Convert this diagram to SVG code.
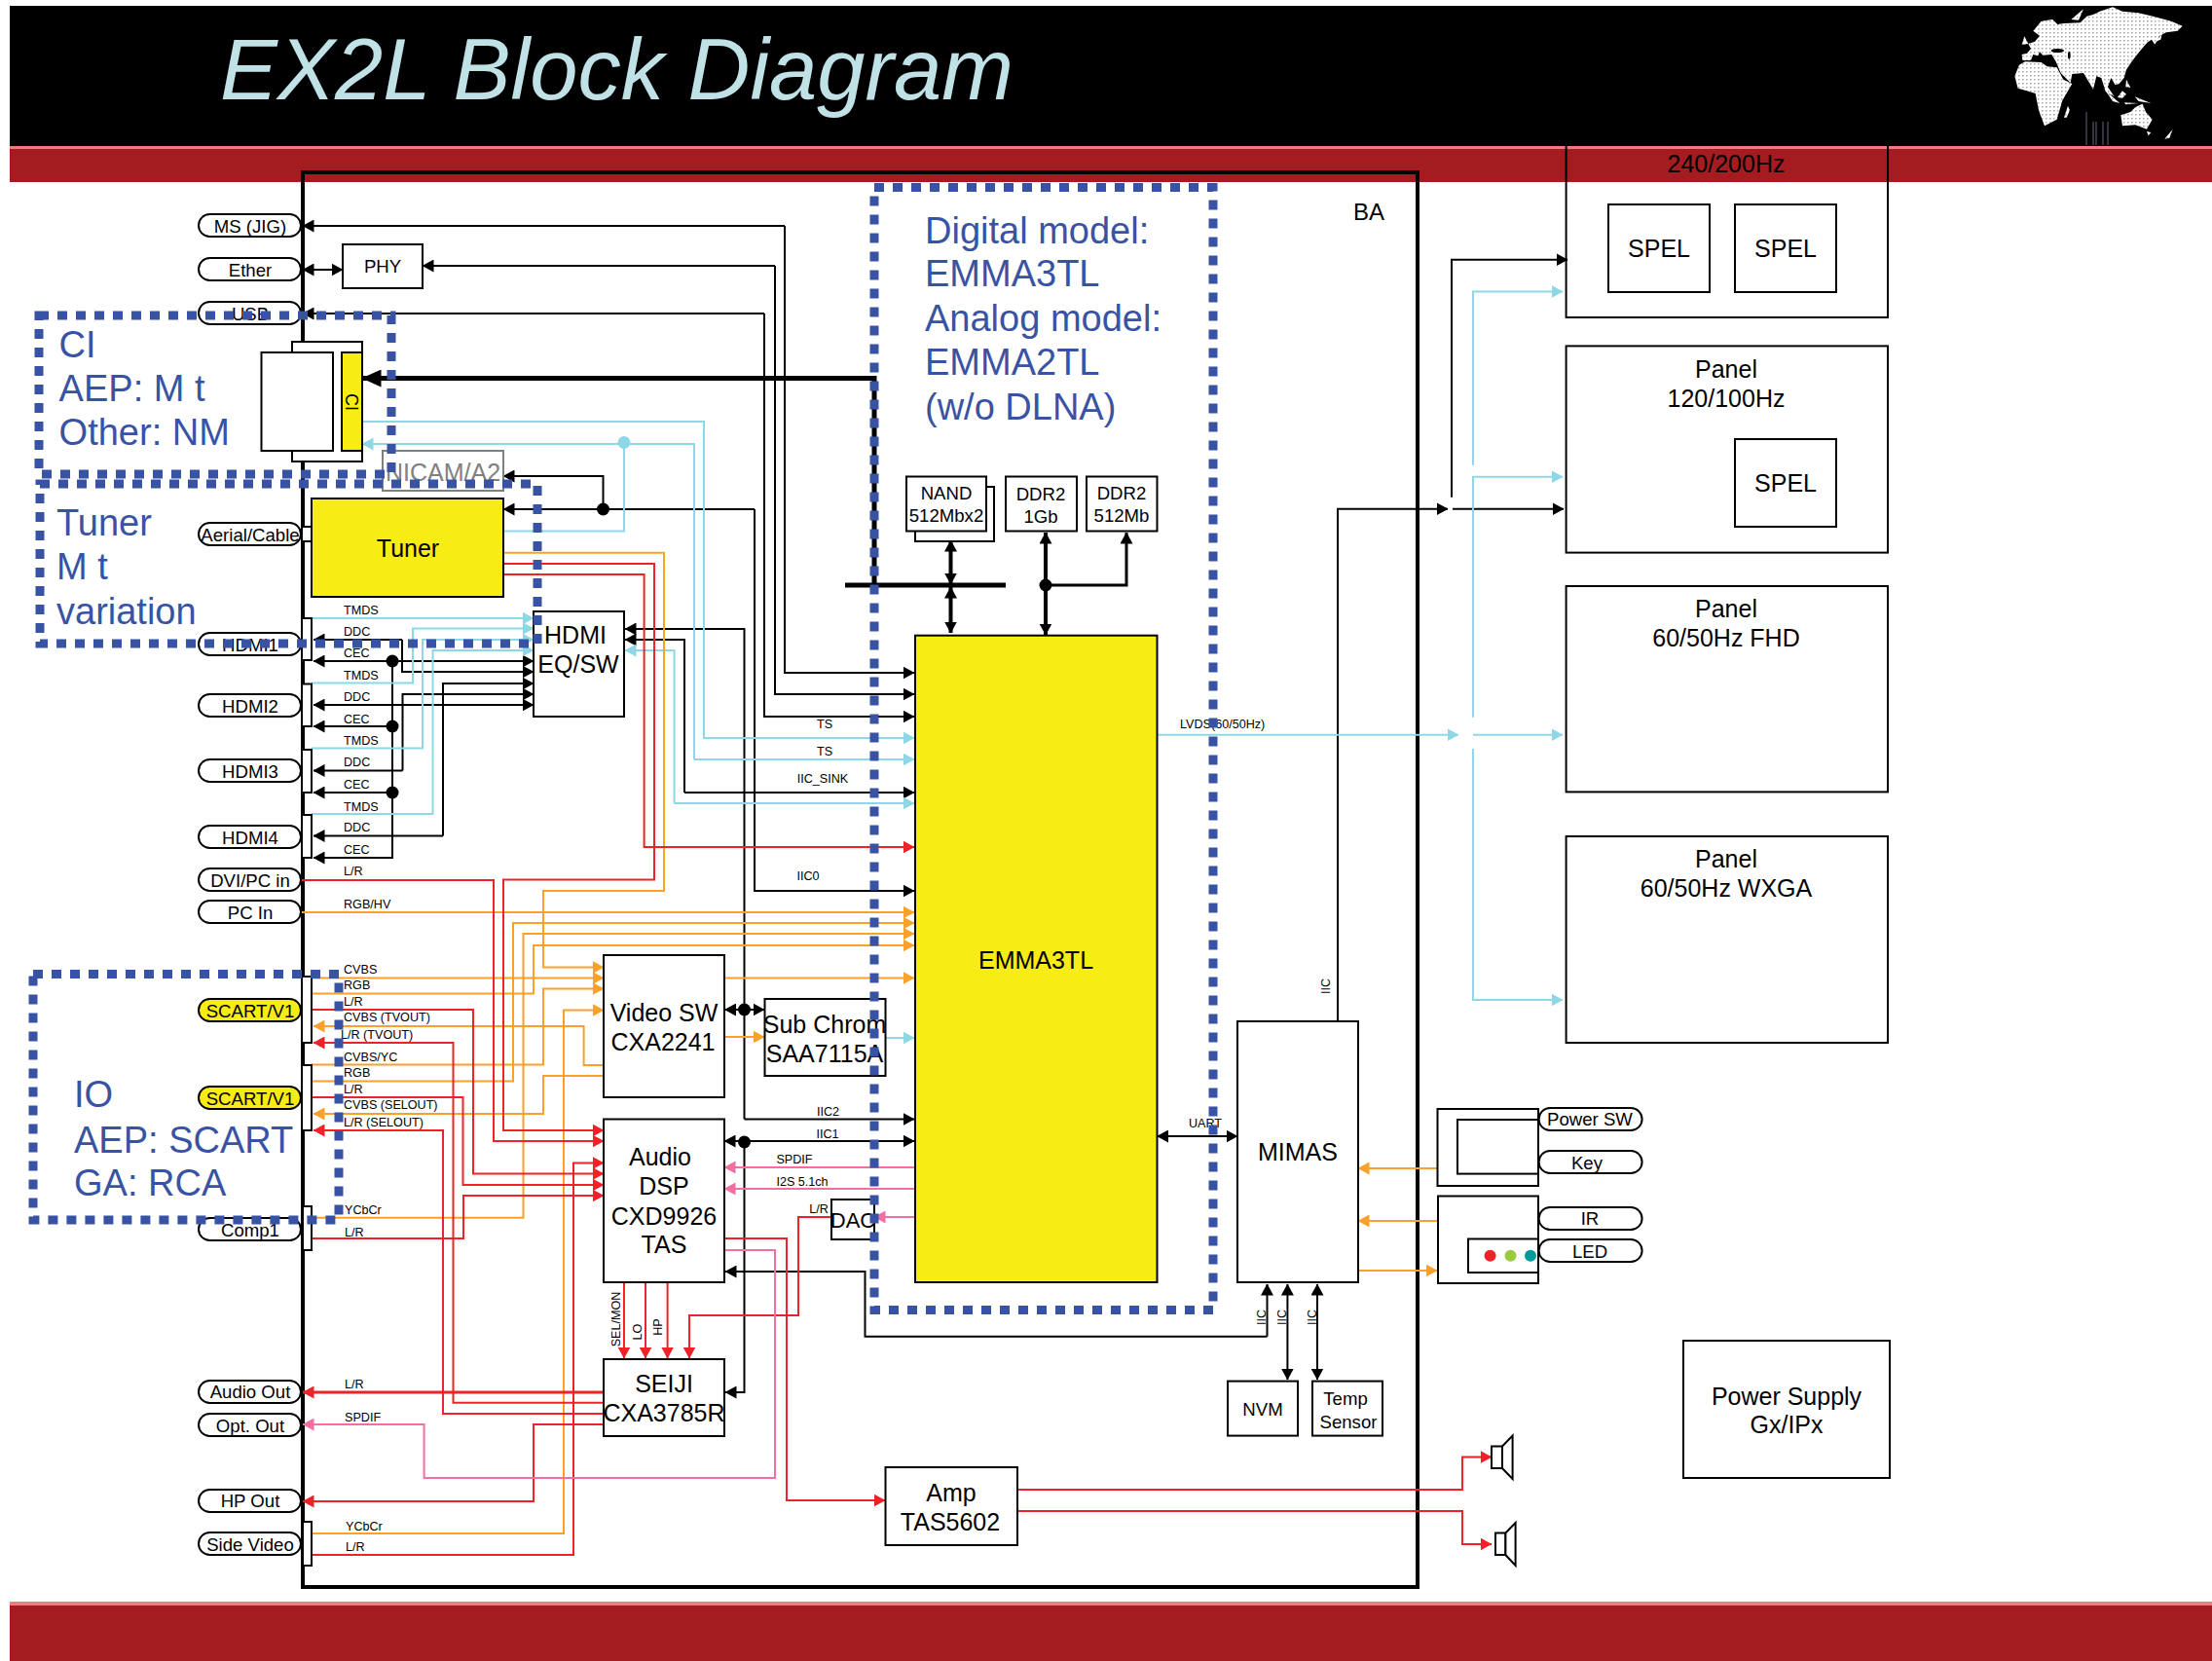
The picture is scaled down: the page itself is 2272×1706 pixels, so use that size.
<svg xmlns="http://www.w3.org/2000/svg" width="2272" height="1706" viewBox="0 0 2272 1706">
<style>
text{font-family:"Liberation Sans",Arial,sans-serif;text-anchor:middle;dominant-baseline:central;fill:#000}
.n25{font-size:25px}.n19{font-size:18.6px}.n22{font-size:22px}.lb{font-size:12.6px}
.st{text-anchor:start}
.bt{font-size:38px;fill:#3953a4;text-anchor:start}
.box{fill:#fff;stroke:#000;stroke-width:2}
.ybox{fill:#f7ec13;stroke:#000;stroke-width:2}
.pill{fill:#fff;stroke:#000;stroke-width:2}
.ypill{fill:#f7ec13;stroke:#000;stroke-width:2}
.nf{fill:none;stroke:#000;stroke-width:2}
#connectors path{fill:none;stroke-width:2;stroke-linejoin:miter}
#connectors .k{stroke:#000;marker-end:url(#mk)}
#connectors .kk{stroke:#000;marker-end:url(#mk);marker-start:url(#mk)}
#connectors .k0{stroke:#000}
#connectors .c{stroke:#8dd7e6;marker-end:url(#mc)}
#connectors .c0{stroke:#8dd7e6}
#connectors .o{stroke:#f9a12b;marker-end:url(#mo)}
#connectors .o0{stroke:#f9a12b}
#connectors .r{stroke:#ee2227;marker-end:url(#mr)}
#connectors .r0{stroke:#ee2227}
#connectors .p{stroke:#f26ea3;marker-end:url(#mp)}
#connectors .p0{stroke:#f26ea3}
#connectors .thick{stroke:#000;stroke-width:5}
.dash{fill:none;stroke:#3953a4;stroke-width:9;stroke-dasharray:10 9}
</style>
<defs>
<marker id="mk" viewBox="0 0 12 12" refX="11.5" refY="6" markerWidth="12" markerHeight="13" markerUnits="userSpaceOnUse" orient="auto-start-reverse" preserveAspectRatio="none"><path d="M0 0L12 6L0 12Z" fill="#000"/></marker>
<marker id="mb" viewBox="0 0 20 18" refX="19.5" refY="9" markerWidth="20" markerHeight="18" markerUnits="userSpaceOnUse" orient="auto"><path d="M0 0L20 9L0 18Z" fill="#000"/></marker>
<marker id="mc" viewBox="0 0 12 12" refX="11.5" refY="6" markerWidth="12" markerHeight="13" markerUnits="userSpaceOnUse" orient="auto" preserveAspectRatio="none"><path d="M0 0L12 6L0 12Z" fill="#8dd7e6"/></marker>
<marker id="mo" viewBox="0 0 12 12" refX="11.5" refY="6" markerWidth="12" markerHeight="13" markerUnits="userSpaceOnUse" orient="auto" preserveAspectRatio="none"><path d="M0 0L12 6L0 12Z" fill="#f9a12b"/></marker>
<marker id="mr" viewBox="0 0 12 12" refX="11.5" refY="6" markerWidth="12" markerHeight="13" markerUnits="userSpaceOnUse" orient="auto" preserveAspectRatio="none"><path d="M0 0L12 6L0 12Z" fill="#ee2227"/></marker>
<marker id="mp" viewBox="0 0 12 12" refX="11.5" refY="6" markerWidth="12" markerHeight="13" markerUnits="userSpaceOnUse" orient="auto" preserveAspectRatio="none"><path d="M0 0L12 6L0 12Z" fill="#f26ea3"/></marker>
<pattern id="dots" width="12" height="12" patternUnits="userSpaceOnUse"><rect width="12" height="12" fill="#fff"/><rect x="4" y="4" width="3" height="3" fill="#333"/></pattern>
</defs>

<rect width="2272" height="1706" fill="#fff"/>
<g id="header">
<rect x="10" y="6" width="2262" height="144" fill="#000"/>
<rect x="10" y="150" width="2262" height="4" fill="#ef7b80"/>
<rect x="10" y="153" width="2262" height="34" fill="#a51c20"/>
<text x="226" y="102" style="font-size:88.5px;font-style:italic;text-anchor:start;dominant-baseline:alphabetic;fill:#c0e2e6">EX2L Block Diagram</text>
<g id="worldmap" transform="translate(1980 0) scale(.3333)" fill="url(#dots)">
<path d="M290 168L306 164L318 150L310 135L330 128L345 110L325 95L350 65L385 60L400 75L420 72L470 70L490 50L510 45L530 35L570 22L600 35L650 40L700 52L750 65L785 80L770 95L735 100L715 110L700 137L690 122L678 130L660 150L640 175L625 195L612 215L605 240L590 258L578 262L565 240L555 268L575 298L548 282L535 240L520 235L510 275L495 250L480 225L445 228L440 255L410 225L395 190L382 168L355 170L345 160L340 172L325 168L318 186L292 186Z"/>
<path d="M268 235L282 200L300 190L350 192L368 205L398 208L418 245L445 258L415 310L398 368L360 388L342 340L332 288L300 278L278 272Z"/>
<path d="M595 355L625 345L640 330L662 320L672 345L692 368L675 398L640 385L600 388Z"/>
<path d="M730 428L755 398L745 425ZM420 362L432 326L438 340L428 362ZM442 60L480 28L465 62ZM548 280L592 318L570 312ZM585 300L600 280L612 290L600 302ZM605 316L650 318L610 322ZM638 298L688 318L650 312ZM612 245L625 270L610 268ZM700 130L722 105L718 122ZM290 138L298 112L310 135ZM675 405L688 408L680 418Z"/>
<ellipse cx="400" cy="156" rx="20" ry="6" fill="#000"/><ellipse cx="436" cy="170" rx="4" ry="12" fill="#000"/>
</g>
<path d="M2143 115V149M2150 125V149M2153 125V149M2160 125V149M2165 125V149" stroke="#445" stroke-width="1.5" fill="none"/>
</g>

<rect id="frame" x="311" y="177" width="1145" height="1453" fill="none" stroke="#000" stroke-width="4"/>

<g id="connectors">
<path class="k" d="M806 232V691H939"/>
<path class="k" d="M806 232H311"/>
<path class="k" d="M796 273H434"/>
<path class="k" d="M796 273V713H939"/>
<path class="kk" d="M311 277H352"/>
<path class="k" d="M785 322H311"/>
<path class="k" d="M785 322V736H939"/>
<path class="thick" style="marker-end:url(#mb)" d="M898 388.5H372"/>
<path class="thick" d="M898 386V601"/>
<path class="thick" d="M868 601H1033"/>
<path class="k" d="M775 523H517"/>
<path class="k" d="M775 523V915H939"/>
<path class="k" d="M619.5 523V489H517"/>
<path class="k" d="M764.5 1149.5V646H642"/>
<path class="k" d="M764.5 1149.5H939"/>
<path class="k" d="M703 814V657H642"/>
<path class="k" d="M703 814H939"/>
<path class="kk" d="M744 1172H939"/>
<path class="k" d="M764.5 1172V1430H745"/>
<path class="kk" d="M744.5 1037H785"/>
<path class="k" d="M1301.5 1372.7V1319"/>
<path class="k" d="M1301.5 1372.7H888.5V1306H745"/>
<path class="kk" d="M1322.4 1319V1417"/>
<path class="kk" d="M1353 1319V1417"/>
<path class="kk" d="M1188.5 1167H1271"/>
<path class="kk" style="stroke-width:4" d="M976.5 555V600"/>
<path class="kk" style="stroke-width:4" d="M976.5 603V650"/>
<path class="kk" style="stroke-width:4" d="M1074 547V652"/>
<path class="k" style="stroke-width:3" d="M1074 601H1157V547"/>
<path class="k" d="M1374 1049V522.7H1487"/>
<path class="k" d="M1491 510.7V266.7H1610"/>
<path class="k" d="M1492 522.7H1606"/>
<path class="k" d="M413 657H322"/>
<path class="k" d="M413 657V690H548"/>
<path class="kk" d="M322 679H548"/>
<path class="k" d="M403 679V881H322"/>
<path class="k" d="M403 746H322"/>
<path class="k" d="M403 814H322"/>
<path class="kk" d="M322 724H548"/>
<path class="k" d="M413.5 791.4H322"/>
<path class="k" d="M413.5 791.4V713H548"/>
<path class="k" d="M455 858.5H322"/>
<path class="k" d="M455 858.5V702H548"/>
<path class="c" d="M320 635H548"/>
<path class="c" d="M320 701.6H424V645.5H548"/>
<path class="c" d="M320 768.5H434V657H548"/>
<path class="c" d="M320 836H444.5V668H548"/>
<path class="c" d="M692.6 825V668H642"/>
<path class="c" d="M692.6 825H939"/>
<path class="c" d="M372 433H723V758H939"/>
<path class="c" d="M713 780V456H372"/>
<path class="c" d="M713 780H939"/>
<path class="c0" d="M517 545.6H641V455"/>
<path class="c" d="M909 1066H939"/>
<path class="c" d="M1188.5 754.7H1498"/>
<path class="c" d="M1513 754.7H1605"/>
<path class="c" d="M1513 477.7V299.6H1605"/>
<path class="c" d="M1513 736.7V489.7H1605"/>
<path class="c" d="M1513 769V1027H1605"/>
<path class="o" d="M517 567.7H682V915H558V993.5H620"/>
<path class="o" d="M310 937H939"/>
<path class="o" d="M320 1110.6H527V948H939"/>
<path class="o" d="M320 1250.7H537.5V959H939"/>
<path class="o" d="M320 1020.6H548V971H939"/>
<path class="o" d="M320 1004.5H620"/>
<path class="o" d="M320 1093.4H558V1015.6H620"/>
<path class="o" d="M320 1575H579V1037.4H620"/>
<path class="o" d="M620 1094H599.6V1054H322"/>
<path class="o" d="M620 1105H558V1144H322"/>
<path class="o" d="M744 1004.5H939"/>
<path class="o" d="M744 1065H785"/>
<path class="o" d="M1476 1200H1395"/>
<path class="o" d="M1476 1254H1395"/>
<path class="o" d="M1395 1305H1476"/>
<path class="r" d="M517 579H672V903.5H517V1161H620"/>
<path class="r" d="M517 590H661.6V870H939"/>
<path class="r" d="M310 904H507V1172H620"/>
<path class="r" d="M320 1037H486V1205.6H620"/>
<path class="r" d="M620 1440.7H465.5V1071H322"/>
<path class="r" d="M620 1452H455V1161H322"/>
<path class="r" d="M320 1127H475.5V1217H620"/>
<path class="r" d="M320 1272H476V1228H620"/>
<path class="r" d="M320 1597H589V1194.5H620"/>
<path class="r" d="M641 1317V1395"/>
<path class="r" d="M663 1317V1395"/>
<path class="r" d="M685.6 1317V1395"/>
<path class="r" d="M854 1250H820V1351H708V1395"/>
<path class="r" style="stroke-width:3" d="M620 1430H311"/>
<path class="r" d="M620 1463H548V1542H311"/>
<path class="r" d="M744 1272H808V1541H909"/>
<path class="r" d="M1045 1530H1502V1496.6H1532"/>
<path class="r" d="M1045 1552H1502V1586H1532"/>
<path class="p" d="M939 1199H744"/>
<path class="p" d="M939 1221H744"/>
<path class="p" d="M939 1250H898"/>
<path class="p" d="M744 1284H796V1518H435.6V1463H311"/>
</g>

<g id="dots">
<circle cx="403" cy="679" r="6.5"/><circle cx="403" cy="746" r="6.5"/><circle cx="403" cy="814" r="6.5"/>
<circle cx="619.5" cy="523" r="6.5"/><circle cx="641" cy="454.5" r="6.5" fill="#8dd7e6"/>
<circle cx="764.5" cy="1037" r="6.5"/><circle cx="764.5" cy="1173" r="6.5"/>
<circle cx="1074" cy="601" r="6.5"/>
</g>

<g id="pills">
<g id="ms"><rect class="pill" x="204" y="220" width="105" height="23" rx="11.5"/><text class="n19" x="257" y="232">MS (JIG)</text></g>
<g id="ether"><rect class="pill" x="204" y="265" width="105" height="23" rx="11.5"/><text class="n19" x="257" y="277">Ether</text></g>
<g id="usb"><rect class="pill" x="204" y="310" width="105" height="23" rx="11.5"/><text class="n19" x="257" y="322">USB</text></g>
<g id="aerial"><rect class="pill" x="204" y="537" width="105" height="23" rx="11.5"/><text class="n19" x="257" y="549">Aerial/Cable</text></g>
<g id="hdmi1"><rect class="pill" x="204" y="650" width="105" height="23" rx="11.5"/><text class="n19" x="257" y="662">HDMI1</text></g>
<g id="hdmi2"><rect class="pill" x="204" y="713" width="105" height="23" rx="11.5"/><text class="n19" x="257" y="725">HDMI2</text></g>
<g id="hdmi3"><rect class="pill" x="204" y="780" width="105" height="23" rx="11.5"/><text class="n19" x="257" y="792">HDMI3</text></g>
<g id="hdmi4"><rect class="pill" x="204" y="848" width="105" height="23" rx="11.5"/><text class="n19" x="257" y="860">HDMI4</text></g>
<g id="dvi"><rect class="pill" x="204" y="892" width="105" height="23" rx="11.5"/><text class="n19" x="257" y="904">DVI/PC in</text></g>
<g id="pcin"><rect class="pill" x="204" y="925" width="105" height="23" rx="11.5"/><text class="n19" x="257" y="937">PC In</text></g>
<g id="scart1"><rect class="ypill" x="204" y="1026" width="105" height="23" rx="11.5"/><text class="n19" x="257" y="1038">SCART/V1</text></g>
<g id="scart2"><rect class="ypill" x="204" y="1116" width="105" height="23" rx="11.5"/><text class="n19" x="257" y="1128">SCART/V1</text></g>
<g id="comp1"><rect class="pill" x="204" y="1251" width="105" height="23" rx="11.5"/><text class="n19" x="257" y="1263">Comp1</text></g>
<g id="audioout"><rect class="pill" x="204" y="1418" width="105" height="23" rx="11.5"/><text class="n19" x="257" y="1429">Audio Out</text></g>
<g id="optout"><rect class="pill" x="204" y="1452" width="105" height="23" rx="11.5"/><text class="n19" x="257" y="1464">Opt. Out</text></g>
<g id="hpout"><rect class="pill" x="204" y="1530" width="105" height="23" rx="11.5"/><text class="n19" x="257" y="1541">HP Out</text></g>
<g id="sidevideo"><rect class="pill" x="204" y="1574" width="105" height="23" rx="11.5"/><text class="n19" x="257" y="1586">Side Video</text></g>
</g>

<g id="strips">
<rect class="box" x="310" y="541" width="10" height="15"/>
<rect class="box" x="310" y="635" width="10" height="43"/>
<rect class="box" x="310" y="702.5" width="10" height="43.5"/>
<rect class="box" x="310" y="770" width="10" height="44"/>
<rect class="box" x="310" y="837" width="10" height="44"/>
<rect class="box" x="310" y="1003" width="10" height="68"/>
<rect class="box" x="310" y="1094" width="10" height="67"/>
<rect class="box" x="311" y="1239" width="9" height="45"/>
<rect class="box" x="311" y="1563" width="9" height="45"/>
</g>

<g id="labels">
<text class="lb st" x="353" y="627">TMDS</text><text class="lb st" x="353" y="649">DDC</text><text class="lb st" x="353" y="671">CEC</text>
<text class="lb st" x="353" y="694">TMDS</text><text class="lb st" x="353" y="716">DDC</text><text class="lb st" x="353" y="739">CEC</text>
<text class="lb st" x="353" y="761">TMDS</text><text class="lb st" x="353" y="783">DDC</text><text class="lb st" x="353" y="806">CEC</text>
<text class="lb st" x="353" y="829">TMDS</text><text class="lb st" x="353" y="850">DDC</text><text class="lb st" x="353" y="873">CEC</text>
<text class="lb st" x="353" y="895">L/R</text><text class="lb st" x="353" y="929">RGB/HV</text>
<text class="lb st" x="353" y="996">CVBS</text><text class="lb st" x="353" y="1012">RGB</text><text class="lb st" x="353" y="1029">L/R</text>
<text class="lb st" x="353" y="1045">CVBS (TVOUT)</text><text class="lb st" x="350" y="1063">L/R (TVOUT)</text>
<text class="lb st" x="353" y="1086">CVBS/YC</text><text class="lb st" x="353" y="1102">RGB</text><text class="lb st" x="353" y="1119">L/R</text>
<text class="lb st" x="353" y="1135">CVBS (SELOUT)</text><text class="lb st" x="353" y="1153">L/R (SELOUT)</text>
<text class="lb st" x="354" y="1243">YCbCr</text><text class="lb st" x="354" y="1266">L/R</text>
<text class="lb st" x="354" y="1422">L/R</text><text class="lb st" x="354" y="1456">SPDIF</text>
<text class="lb st" x="355" y="1568">YCbCr</text><text class="lb st" x="355" y="1589">L/R</text>
<text class="lb" x="847" y="744">TS</text><text class="lb" x="847" y="772">TS</text><text class="lb" x="845" y="800">IIC_SINK</text>
<text class="lb" x="830" y="900">IIC0</text><text class="lb" x="850.6" y="1142">IIC2</text><text class="lb" x="850" y="1164.5">IIC1</text>
<text class="lb" x="816" y="1191">SPDIF</text><text class="lb" x="824" y="1213.5">I2S 5.1ch</text><text class="lb" x="841" y="1242">L/R</text>
<text class="lb" x="1238" y="1154">UART</text>
<text class="lb st" x="1212" y="743.5">LVDS(60/50Hz)</text>
<text class="lb" transform="translate(633 1355) rotate(-90)">SEL/MON</text>
<text class="lb" transform="translate(655 1368) rotate(-90)">LO</text>
<text class="lb" transform="translate(676 1363) rotate(-90)">HP</text>
<text class="lb" transform="translate(1296 1353) rotate(-90)">IIC</text>
<text class="lb" transform="translate(1317 1353) rotate(-90)">IIC</text>
<text class="lb" transform="translate(1347.5 1353) rotate(-90)">IIC</text>
<text class="lb" transform="translate(1362 1013) rotate(-90)">IIC</text>
<text class="n25" x="1406" y="217" style="font-size:24px">BA</text>
</g>

<g id="phy"><rect class="box" x="352" y="251" width="82" height="45"/><text class="n19" x="393" y="273">PHY</text></g>
<g id="ci">
<rect class="box" x="300" y="351" width="72" height="123"/>
<rect class="box" x="268.5" y="362" width="73.5" height="101"/>
<rect class="ybox" x="351" y="362" width="21" height="101"/>
<text class="n19" transform="translate(361 413) rotate(90)" style="font-size:18px">CI</text>
</g>
<g id="nicam"><rect x="393" y="463" width="124" height="41" fill="#fff" stroke="#808080" stroke-width="2"/><text class="n25" x="455" y="485" style="fill:#808080">NICAM/A2</text></g>
<g id="tuner"><rect class="ybox" x="320" y="512" width="197" height="101"/><text class="n25" x="419" y="563">Tuner</text></g>
<g id="hdmisw"><rect class="box" x="548" y="628" width="93" height="108"/><text class="n25" x="591" y="652">HDMI</text><text class="n25" x="594" y="682">EQ/SW</text></g>
<g id="nand">
<rect class="box" x="940" y="500" width="81" height="56"/>
<rect class="box" x="931" y="489.5" width="82" height="56"/>
<text class="n19" x="972" y="506">NAND</text><text class="n19" x="972" y="529.5">512Mbx2</text>
</g>
<g id="ddr1"><rect class="box" x="1033" y="489.5" width="73" height="56"/><text class="n19" x="1069" y="507">DDR2</text><text class="n19" x="1069" y="530">1Gb</text></g>
<g id="ddr2"><rect class="box" x="1116" y="489.5" width="72.5" height="56"/><text class="n19" x="1152" y="506">DDR2</text><text class="n19" x="1152" y="529.5">512Mb</text></g>
<g id="emma"><rect class="ybox" x="940" y="652.7" width="248.5" height="664.3"/><text class="n25" x="1064" y="986">EMMA3TL</text></g>
<g id="videosw"><rect class="box" x="620" y="981" width="124" height="146"/><text class="n25" x="682" y="1040">Video SW</text><text class="n25" x="681" y="1070">CXA2241</text></g>
<g id="subchroma"><rect class="box" x="785.5" y="1026" width="124" height="79"/><text class="n25" x="847" y="1052">Sub Chrom</text><text class="n25" x="847" y="1082">SAA7115A</text></g>
<g id="audiodsp"><rect class="box" x="620" y="1149.5" width="124" height="167.5"/><text class="n25" x="678" y="1188">Audio</text><text class="n25" x="682" y="1218">DSP</text><text class="n25" x="682" y="1249">CXD9926</text><text class="n25" x="682" y="1278">TAS</text></g>
<g id="dac"><rect class="box" x="854" y="1232" width="44" height="41"/><text class="n22" x="876" y="1253">DAC</text></g>
<g id="seiji"><rect class="box" x="620" y="1396" width="124" height="79"/><text class="n25" x="682" y="1421">SEIJI</text><text class="n25" x="682" y="1451">CXA3785R</text></g>
<g id="amp"><rect class="box" x="909.5" y="1507" width="135.5" height="80"/><text class="n25" x="977" y="1533">Amp</text><text class="n25" x="976" y="1563">TAS5602</text></g>
<g id="mimas"><rect class="box" x="1271" y="1049" width="124" height="268"/><text class="n25" x="1333" y="1183">MIMAS</text></g>
<g id="nvm"><rect class="box" x="1261" y="1418.6" width="72" height="56"/><text class="n19" x="1297" y="1447">NVM</text></g>
<g id="temp"><rect class="box" x="1348" y="1418.6" width="72" height="56"/><text class="n19" x="1382" y="1436.6">Temp</text><text class="n19" x="1385" y="1460">Sensor</text></g>

<g id="panel240"><path class="nf" d="M1608.6 148V326H1939V148"/><text class="n25" x="1773" y="168">240/200Hz</text>
<rect class="box" x="1652" y="210" width="104" height="90"/><text class="n25" x="1704" y="255">SPEL</text>
<rect class="box" x="1782" y="210" width="104" height="90"/><text class="n25" x="1834" y="255">SPEL</text></g>
<g id="panel120"><rect class="box" x="1608.6" y="355.4" width="330.4" height="212.2"/><text class="n25" x="1773" y="379">Panel</text><text class="n25" x="1773" y="409">120/100Hz</text>
<rect class="box" x="1782" y="451" width="104" height="90"/><text class="n25" x="1834" y="496">SPEL</text></g>
<g id="panelfhd"><rect class="box" x="1608.6" y="602" width="330.4" height="211.4"/><text class="n25" x="1773" y="625">Panel</text><text class="n25" x="1773" y="655">60/50Hz FHD</text></g>
<g id="panelwxga"><rect class="box" x="1608.6" y="859" width="330.4" height="212"/><text class="n25" x="1773" y="882">Panel</text><text class="n25" x="1773" y="912">60/50Hz WXGA</text></g>

<g id="keybox"><rect class="box" x="1476.5" y="1139" width="103.5" height="79"/><rect class="box" x="1497" y="1150" width="83" height="55.6"/></g>
<g id="irbox"><rect class="box" x="1477" y="1228.5" width="103" height="89.5"/><rect class="box" x="1508" y="1272.5" width="72" height="34.5"/>
<circle cx="1530.6" cy="1289.7" r="6" fill="#ee2227"/><circle cx="1551.5" cy="1289.7" r="6" fill="#9acb3c"/><circle cx="1572" cy="1289.7" r="6" fill="#009a9a"/></g>
<g id="powersw"><rect class="pill" x="1580.6" y="1138" width="106" height="23" rx="11.5"/><text class="n19" x="1633" y="1149.5">Power SW</text></g>
<g id="key"><rect class="pill" x="1580.6" y="1182" width="106" height="23" rx="11.5"/><text class="n19" x="1630" y="1194">Key</text></g>
<g id="ir"><rect class="pill" x="1580.6" y="1240" width="106" height="23" rx="11.5"/><text class="n19" x="1633" y="1251">IR</text></g>
<g id="led"><rect class="pill" x="1580.6" y="1273" width="106" height="23" rx="11.5"/><text class="n19" x="1633" y="1285">LED</text></g>
<g id="speaker1"><rect class="box" x="1532" y="1485.5" width="11" height="22.5"/><path class="box" d="M1543 1485.5L1553.6 1474.5V1519L1543 1508Z"/></g>
<g id="speaker2"><rect class="box" x="1536" y="1574.5" width="10.4" height="22.5"/><path class="box" d="M1546.4 1574.5L1556.6 1564V1608L1546.4 1597Z"/></g>
<g id="psu"><rect class="box" x="1729" y="1377" width="212" height="141"/><text class="n25" x="1835" y="1434">Power Supply</text><text class="n25" x="1835" y="1463">Gx/IPx</text></g>

<g id="regions">
<rect class="dash" x="40" y="324" width="362" height="163"/>
<rect class="dash" x="41" y="497" width="511" height="164"/>
<rect class="dash" x="34" y="1000.6" width="314" height="252.4"/>
<rect class="dash" x="898" y="192.5" width="348" height="1153"/>
<text class="bt" x="60.6" y="354">CI</text><text class="bt" x="60.6" y="398.5">AEP: M t</text><text class="bt" x="60.6" y="444">Other: NM</text>
<text class="bt" x="58" y="537">Tuner</text><text class="bt" x="58" y="582">M t</text><text class="bt" x="58" y="628">variation</text>
<text class="bt" x="76" y="1124">IO</text><text class="bt" x="76" y="1171">AEP: SCART</text><text class="bt" x="76" y="1215">GA: RCA</text>
<text class="bt" x="950" y="237">Digital model:</text><text class="bt" x="950" y="281">EMMA3TL</text><text class="bt" x="950" y="327">Analog model:</text><text class="bt" x="950" y="372">EMMA2TL</text><text class="bt" x="950" y="418">(w/o DLNA)</text>
</g>

<g id="footer"><rect x="10" y="1645" width="2262" height="5" fill="#ef7b80"/><rect x="10" y="1649" width="2262" height="57" fill="#a51c20"/></g>
</svg>
